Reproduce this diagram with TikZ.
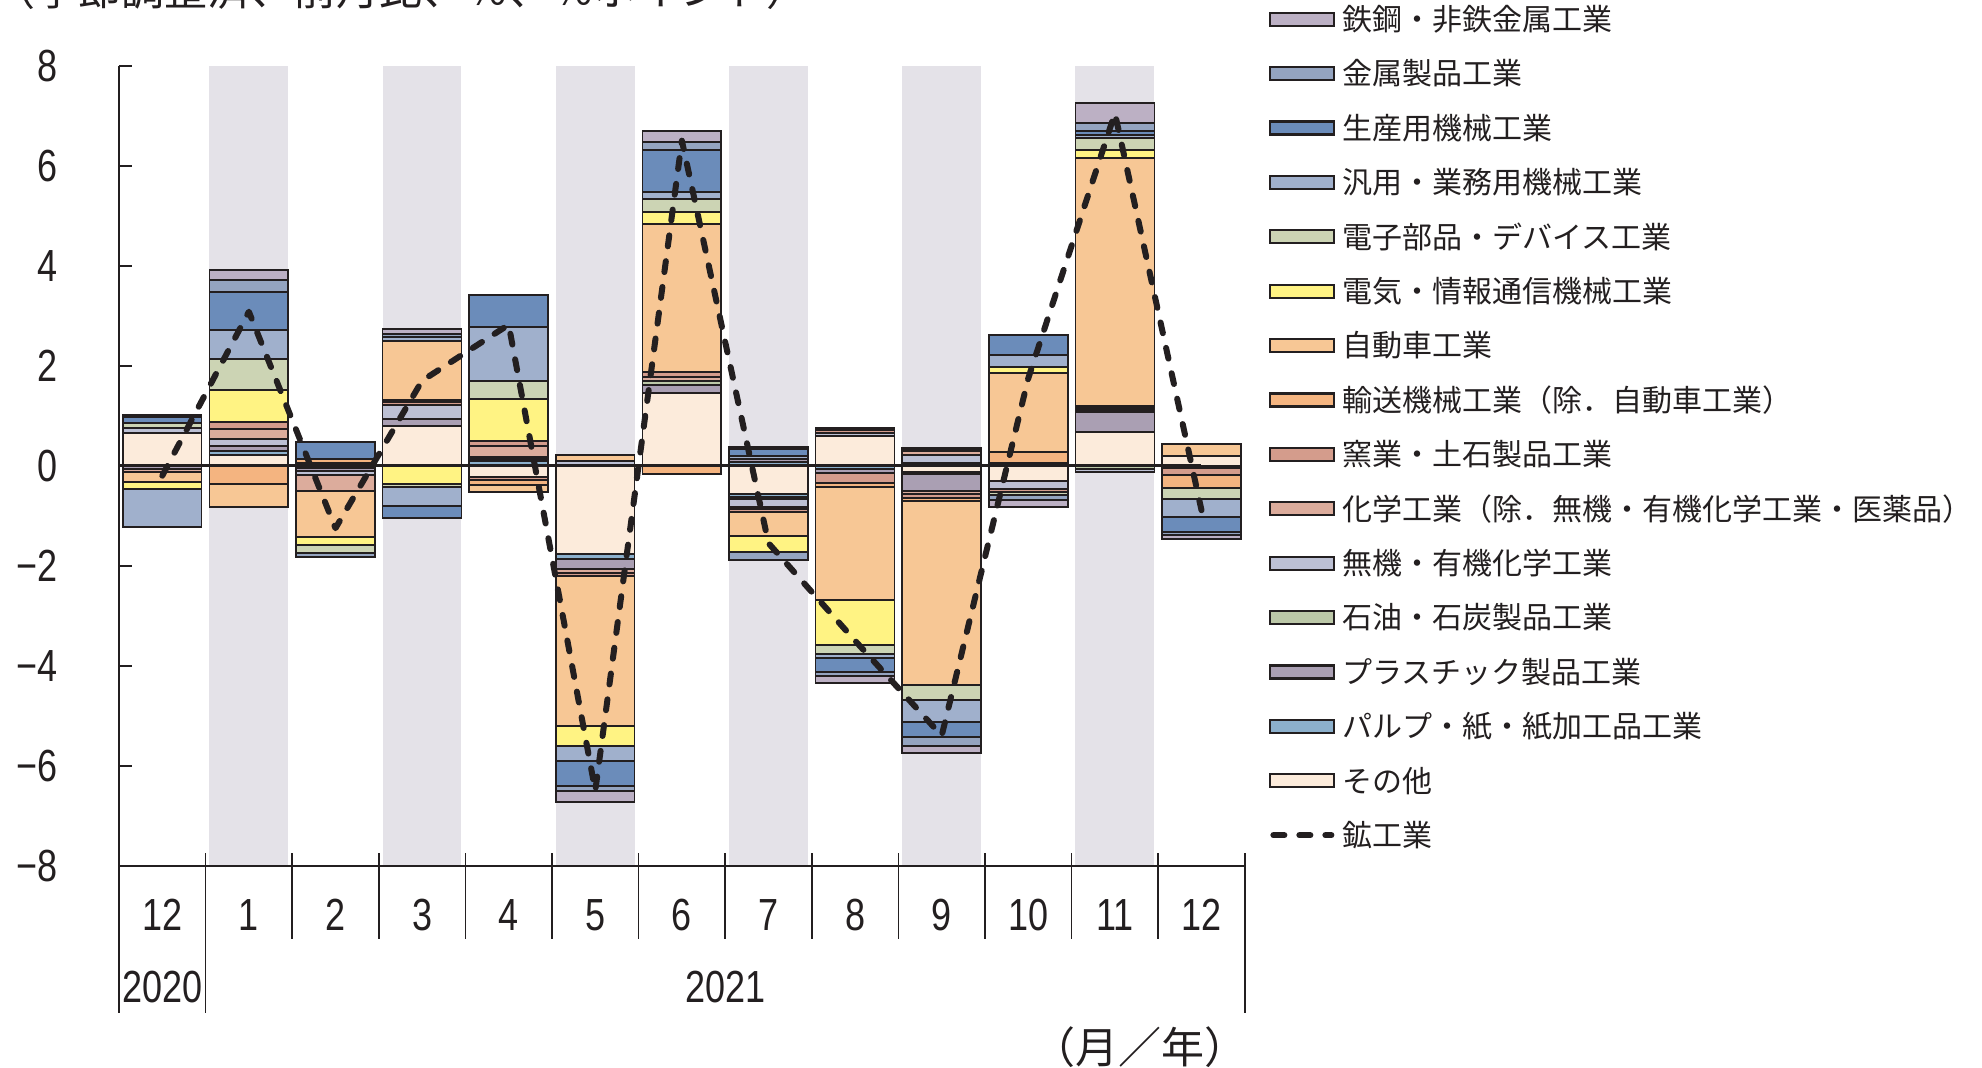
\documentclass[tikz,border=0pt]{standalone}
\usepackage{fontspec}
\setmainfont{Noto Sans CJK JP}
\newfontfamily\numfont[FakeStretch=0.8]{Liberation Sans}

\definecolor{ink}{HTML}{231F20}
\definecolor{bandgray}{HTML}{E4E2E8}
\definecolor{tekko}{HTML}{BCB0C4}
\definecolor{kinzoku}{HTML}{94A4C0}
\definecolor{seisan}{HTML}{6B8CBA}
\definecolor{hanyo}{HTML}{A0B0CC}
\definecolor{denshi}{HTML}{CCD4B4}
\definecolor{denki}{HTML}{FFF383}
\definecolor{jidosha}{HTML}{F7C795}
\definecolor{yuso}{HTML}{F4B480}
\definecolor{yogyo}{HTML}{D49C8C}
\definecolor{kagaku}{HTML}{DCAC9C}
\definecolor{muki}{HTML}{BCC0D4}
\definecolor{sekiyu}{HTML}{BCC8A8}
\definecolor{plastic}{HTML}{AA9FB3}
\definecolor{pulp}{HTML}{8CB0CC}
\definecolor{sonota}{HTML}{FCEBDB}

% one bar: slot, segments above zero, segments below zero (colour/edge)
\newcommand{\barstack}[3]{%
    \foreach \col/\hi [remember=\hi as \lo (initially 0)] in {#2}
        \draw[seg, fill=\col] (#1+0.045,\lo) rectangle (#1+0.955,\hi);
    \foreach \col/\hi [remember=\hi as \lo (initially 0)] in {#3}
        \draw[seg, fill=\col] (#1+0.045,\lo) rectangle (#1+0.955,\hi);
}

\begin{document}
\begin{tikzpicture}[x=43.3pt, y=25pt,
    seg/.style={draw=ink, line width=0.8pt},
    band/.style={fill=bandgray},
    mining/.style={draw=ink, line width=3pt, line cap=round, line join=round,
        dash pattern=on 5.5pt off 7.5pt},
    axisline/.style={draw=ink, line width=0.8pt},
    num/.style={font=\numfont\fontsize{22.5}{24}\selectfont, text=ink, inner sep=0pt},
    legtext/.style={font=\fontsize{15}{17}\selectfont, text=ink, anchor=west, inner sep=0pt},
    swatch/.style={draw=ink, line width=1.1pt}]
    \useasboundingbox (-1.374,9.314) rectangle (21.513,-12.026);

    \node[anchor=base west, font=\fontsize{21.5}{23}\selectfont, text=ink, inner sep=0pt]
        (title) at (-1.47,9.2) {（季節調整済、前月比、％、％ポイント）};

    % shaded months
    \foreach \m in {1,3,...,11}
        \fill[band] (\m+0.045,8) rectangle (\m+0.955,-8);

    % bars
    \barstack{0}{sonota/0.66, muki/0.76, denshi/0.86, seisan/0.97, tekko/1.02}
        {plastic/-0.06, kagaku/-0.12, jidosha/-0.33, denki/-0.47, hanyo/-1.22}
    \barstack{1}{sonota/0.22, pulp/0.29, plastic/0.40, muki/0.54, kagaku/0.74, yogyo/0.87,
        denki/1.51, denshi/2.14, hanyo/2.71, seisan/3.48, kinzoku/3.72, tekko/3.91}
        {yuso/-0.36, jidosha/-0.82}
    \barstack{2}{muki/0.06, yuso/0.14, seisan/0.48}
        {sonota/-0.05, plastic/-0.10, muki/-0.19, kagaku/-0.50, jidosha/-1.43, denki/-1.58,
        denshi/-1.74, kinzoku/-1.82}
    \barstack{3}{sonota/0.80, plastic/0.93, muki/1.22, yogyo/1.28, yuso/1.31, jidosha/2.50,
        hanyo/2.58, kinzoku/2.63, tekko/2.73}
        {denki/-0.37, denshi/-0.43, hanyo/-0.81, seisan/-1.05}
    \barstack{4}{pulp/0.09, plastic/0.14, sekiyu/0.18, kagaku/0.40, yogyo/0.50, denki/1.34,
        denshi/1.69, hanyo/2.78, seisan/3.41}
        {sonota/-0.23, yogyo/-0.29, yuso/-0.38, jidosha/-0.53}
    \barstack{5}{muki/0.09, jidosha/0.21}
        {sonota/-1.77, pulp/-1.86, plastic/-2.07, kagaku/-2.14, yogyo/-2.21, jidosha/-5.20,
        denki/-5.60, hanyo/-5.90, seisan/-6.40, kinzoku/-6.51, tekko/-6.72}
    \barstack{6}{sonota/1.45, plastic/1.61, sekiyu/1.69, kagaku/1.78, yogyo/1.87, jidosha/4.84,
        denki/5.07, denshi/5.34, hanyo/5.47, seisan/6.32, kinzoku/6.47, tekko/6.70}
        {yuso/-0.17}
    \barstack{7}{pulp/0.07, plastic/0.13, hanyo/0.19, seisan/0.33, tekko/0.38}
        {sonota/-0.57, pulp/-0.62, plastic/-0.66, muki/-0.82, kagaku/-0.87, yogyo/-0.92,
        jidosha/-1.41, denki/-1.72, kinzoku/-1.89}
    \barstack{8}{sonota/0.59, muki/0.65, yogyo/0.71, yuso/0.76}
        {pulp/-0.06, plastic/-0.14, yogyo/-0.35, yuso/-0.42, jidosha/-2.68, denki/-3.58,
        denshi/-3.76, hanyo/-3.84, seisan/-4.13, kinzoku/-4.20, tekko/-4.34}
    \barstack{9}{sonota/0.06, muki/0.21, kagaku/0.29, yogyo/0.33, denshi/0.36}
        {sonota/-0.13, pulp/-0.16, plastic/-0.50, kagaku/-0.57, yogyo/-0.64, yuso/-0.70,
        jidosha/-4.38, denshi/-4.68, hanyo/-5.12, seisan/-5.42, kinzoku/-5.60, tekko/-5.74}
    \barstack{10}{muki/0.06, yuso/0.27, jidosha/1.86, denki/1.97, hanyo/2.22, seisan/2.62}
        {sonota/-0.30, muki/-0.47, yogyo/-0.52, denshi/-0.58, kinzoku/-0.68, tekko/-0.83}
    \barstack{11}{sonota/0.67, plastic/1.08, kagaku/1.12, yogyo/1.16, yuso/1.20, jidosha/6.16,
        denki/6.32, denshi/6.56, hanyo/6.62, seisan/6.70, kinzoku/6.85, tekko/7.25}
        {sekiyu/-0.06, muki/-0.13}
    \barstack{12}{sonota/0.20, jidosha/0.43}
        {sonota/-0.04, yogyo/-0.19, yuso/-0.44, denshi/-0.66, hanyo/-1.03, seisan/-1.33,
        kinzoku/-1.38, tekko/-1.47}

    % zero line and axes
    \draw[ink, line width=1.6pt] (0,0) -- (12.5,0);
    \draw[axisline] (0,8) -- (0,-10.95);
    \draw[axisline] (0,-8) -- (13,-8);
    \foreach \v in {-8,-6,...,8} {
        \draw[axisline] (0,\v) -- (0.15,\v);
        \node[num, anchor=east] (y\v) at (-0.70,\v)
            {\ifnum\v<0 −\the\numexpr-\v\relax\else\v\fi};
    }
    \foreach \x in {1,...,12}
        \draw[axisline] (\x,-7.75) -- (\x,-9.47);
    \draw[axisline] (1,-9.47) -- (1,-10.95);
    \draw[axisline] (13,-7.75) -- (13,-10.95);
    \foreach \lab [count=\i from 0] in {12,1,2,3,4,5,6,7,8,9,10,11,12}
        \node[num] (m\i) at (\i+0.5,-8.99) {\lab};
    \node[num] (y2020) at (0.5,-10.43) {2020};
    \node[num] (y2021) at (7.0,-10.43) {2021};
    \node[font=\fontsize{21.5}{23}\selectfont, text=ink, inner sep=0pt] (unit) at (11.79,-11.63) {（月／年）};

    % industrial production
    \draw[mining] (0.5,-0.2) -- (1.5,3.08) -- (2.5,-1.25) -- (3.5,1.7) -- (4.5,2.82)
        -- (5.5,-6.5) -- (6.5,6.5) -- (7.5,-1.55) -- (8.5,-3.5) -- (9.5,-5.4)
        -- (10.5,1.75) -- (11.5,7.05) -- (12.5,-0.89);

    % legend
    \foreach \col/\name [count=\i from 0] in {
        tekko/鉄鋼・非鉄金属工業, kinzoku/金属製品工業, seisan/生産用機械工業,
        hanyo/汎用・業務用機械工業, denshi/電子部品・デバイス工業,
        denki/電気・情報通信機械工業, jidosha/自動車工業,
        yuso/輸送機械工業（除．自動車工業）, yogyo/窯業・土石製品工業,
        kagaku/化学工業（除．無機・有機化学工業・医薬品）, muki/無機・有機化学工業,
        sekiyu/石油・石炭製品工業, plastic/プラスチック製品工業,
        pulp/パルプ・紙・紙加工品工業, sonota/その他} {
        \draw[swatch, fill=\col] (13.29,8.93-1.088*\i+0.13) rectangle (14.03,8.93-1.088*\i-0.13);
        \node[legtext] (lg\i) at (14.12,8.93-1.088*\i) {\name};
    }
    \draw[mining] (13.33,8.93-1.088*15) -- (14.0,8.93-1.088*15);
    \node[legtext] (lg15) at (14.12,8.93-1.088*15) {鉱工業};
\end{tikzpicture}
\end{document}
